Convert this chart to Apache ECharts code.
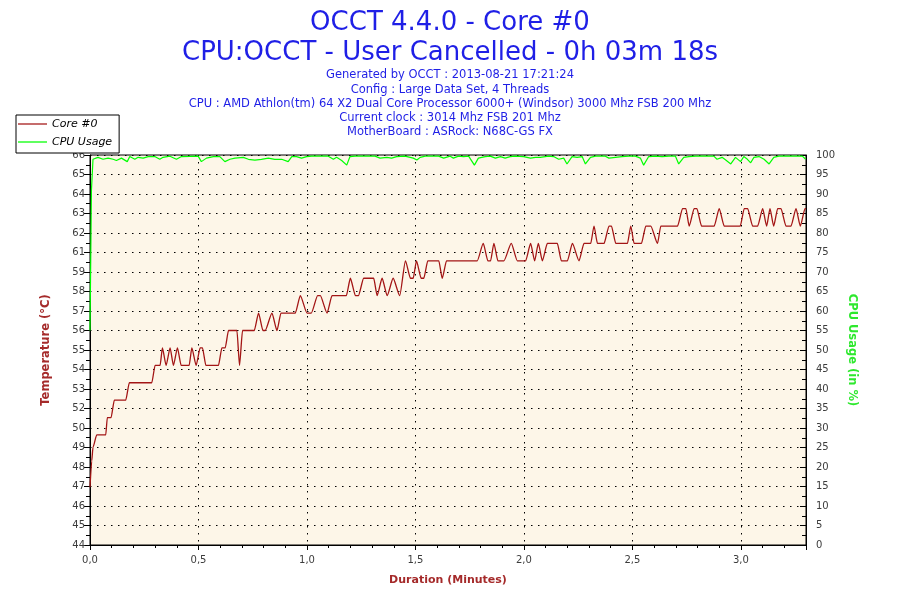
<!DOCTYPE html>
<html>
<head>
<meta charset="utf-8">
<script src="https://cdn.jsdelivr.net/npm/echarts@6/dist/echarts.min.js"></script>
<style>html,body{margin:0;padding:0;background:#fff}#c{width:900px;height:600px}</style>
</head>
<body>
<div id="c"></div>
<script>
// ---- data ----
var titleMain = 'OCCT 4.4.0 - Core #0';
var titleSub = 'CPU:OCCT - User Cancelled - 0h 03m 18s';
var infoLines = [
  'Generated by OCCT : 2013-08-21 17:21:24',
  'Config : Large Data Set, 4 Threads',
  'CPU : AMD Athlon(tm) 64 X2 Dual Core Processor 6000+ (Windsor) 3000 Mhz FSB 200 Mhz',
  'Current clock : 3014 Mhz FSB 201 Mhz',
  'MotherBoard : ASRock: N68C-GS FX'
];
var seriesNames = ['Core #0', 'CPU Usage'];
// left axis tick labels (one per right-axis 5% step)
var tempTickLabels = [44,45,46,47,48,49,50,52,53,54,55,56,57,58,59,61,62,63,64,65,66];

// Core #0 temperature: time (s) and value (°C)
var tempSec = [
  0,0.47,0.83,1.86,4.35,4.79,5.82,6.73,9.89,10.88,
  17.09,18.0,19.39,20.02,21.05,22.15,23.07,24.18,25.2,27.42,
  28.16,29.35,30.46,31.1,32.04,35.53,36.47,37.39,38.3,40.63,
  41.35,42.18,45.42,46.61,47.83,48.46,50.32,51.7,52.81,56.77,
  58.16,60.01,61.2,62.95,63.69,65.55,66.93,70.89,72.0,73.39,
  74.22,75.68,78.45,79.4,80.78,82.17,83.83,85.65,87.23,88.62,
  89.37,90.28,91.58,92.3,93.41,96.46,97.4,98.59,107.09,108.75,
  110.03,110.77,111.69,112.8,114.46,116.5,118.17,120.47,121.85,122.96,
  123.98,125.09,126.47,129.24,130.35,132.01,133.4,135.23,136.61,138.47,
  139.38,140.32,142.15,143.53,144.2,145.39,148.63,149.54,150.46,152.5,
  153.7,155.08,156.94,157.85,162.48,163.86,164.78,165.69,167.07,167.82,
  169.12,172.61,174.0,175.38,179.81,180.92,181.86,183.25,184.63,186.02,
  187.12,188.04,189.06,190.17,191.08,192.47,193.85,195.24,196.43,197.73,
  198
];
var tempVal = [
  47,48.5,49.3,50,50,51,51,52,52,53,
  53,54,54,55,54,55,54,55,54,54,
  55,54,55,55,54,54,55,55,56,56,
  54,56,56,57,56,56,57,56,57,57,
  58,57,57,58,58,57,58,58,59,58,
  58,59,59,58,59,58,59,58,60,59,
  59,60,59,59,60,60,59,60,60,61,
  60,60,61,60,60,61,60,60,61,60,
  61,60,61,61,60,60,61,60,61,61,
  62,61,61,62,62,61,61,62,61,61,
  62,62,61,62,62,63,63,62,63,63,
  62,62,63,62,62,63,63,62,62,63,
  62,63,62,63,63,62,62,63,62,63,
  63
];

// CPU usage: time (s) and value (%)
var cpuSec = [
  0,0.4,0.83,2.2,3.6,5.0,6.4,7.3,8.7,10.3,
  11.0,12.4,13.3,14.7,16.1,17.9,19.3,20.2,22.1,23.9,
  25.3,29.9,30.8,32.2,34.1,35.9,37.3,38.7,40.1,42.4,
  43.8,45.6,47.4,49.3,51.1,53.0,54.8,55.8,57.1,58.5,
  59.9,61.3,65.9,67.3,68.2,69.6,71.0,71.9,73.3,78.8,
  80.2,82.1,83.4,84.8,87.1,89.4,90.4,91.3,92.7,96.4,
  97.8,99.6,100.5,101.9,103.3,104.7,106.3,107.4,109.3,110.7,
  112.1,113.5,114.8,116.2,117.6,119.9,121.8,123.2,124.5,126.8,
  128.2,129.6,131.0,131.9,133.3,134.7,136.1,137.0,138.4,139.8,
  142.5,143.5,145.3,147.1,149.0,150.8,152.2,153.1,154.5,156.4,
  158.2,160.1,161.9,162.8,164.2,165.6,167.5,172.5,173.4,174.8,
  175.8,177.2,178.5,179.9,180.8,181.8,182.7,183.6,185.0,186.4,
  187.8,189.1,190.5,197.0,197.9
];
var cpuVal = [
  55,91,98.9,99.4,98.9,99.2,98.9,98.6,99.2,98.3,
  99.6,98.9,99.4,99.2,99.6,99.6,98.9,99.4,99.7,98.9,
  99.6,99.7,98.3,99.2,99.6,99.6,98.3,98.9,99.2,99.4,
  98.9,98.7,98.9,99.2,98.9,98.9,98.3,99.6,99.6,99.2,
  99.6,99.7,99.7,98.9,99.4,98.6,97.4,99.6,99.7,99.7,
  99.2,99.4,99.2,99.6,99.7,99.2,98.7,99.4,99.7,99.7,
  99.2,99.7,99.2,99.7,99.6,99.7,97.4,99.2,99.6,99.7,
  99.2,99.6,99.2,99.6,99.7,99.6,99.2,99.4,99.4,99.7,
  99.6,98.9,99.2,97.7,99.6,99.4,99.6,97.7,99.4,99.7,
  99.7,99.2,99.4,99.6,99.7,99.7,99.2,97.4,99.6,99.7,
  99.6,99.7,99.7,97.7,99.4,99.6,99.7,99.7,98.9,99.4,
  98.7,97.7,99.4,98.3,99.6,98.9,98.0,99.4,99.6,98.9,
  97.7,99.4,99.7,99.7,98.9
];

// ---- chart ----
var FONT = 'DejaVu Sans';
var BLUE = '#1f1fe6';
var TEMP_COLOR = '#a31515';
var CPU_COLOR = '#00ff00';
var chart = echarts.init(document.getElementById('c'), null, {renderer: 'canvas'});
var dotted = {color: '#000', width: 1, type: [1.5, 5.5]};

var tempData = tempSec.map(function (s, i) { return [s / 60, tempVal[i]]; });
var cpuData = cpuSec.map(function (s, i) { return [s / 60, cpuVal[i]]; });

var titles = [
  {text: titleMain, left: 'center', top: 10, padding: 0,
   textStyle: {fontFamily: FONT, fontSize: 26, fontWeight: 'normal', color: BLUE}},
  {text: titleSub, left: 'center', top: 40, padding: 0,
   textStyle: {fontFamily: FONT, fontSize: 26, fontWeight: 'normal', color: BLUE}}
];
var infoTops = [69.5, 84, 98, 112, 126];
infoLines.forEach(function (line, i) {
  titles.push({text: line, left: 'center', top: infoTops[i], padding: 0,
    textStyle: {fontFamily: FONT, fontSize: 11.5, fontWeight: 'normal', color: BLUE}});
});

var lineIcon = 'path://M0,0H30V1.3H0Z';

chart.setOption({
  animation: false,
  backgroundColor: '#ffffff',
  title: titles,
  legend: {
    data: [
      {name: seriesNames[0], icon: lineIcon, itemStyle: {color: TEMP_COLOR}},
      {name: seriesNames[1], icon: lineIcon, itemStyle: {color: CPU_COLOR}}
    ],
    orient: 'vertical',
    left: 16, top: 115,
    padding: [2, 7, 4, 2],
    itemWidth: 29, itemHeight: 14, itemGap: 4, itemTextGap: 8,
    backgroundColor: '#fff', borderColor: '#000', borderWidth: 1, borderRadius: 0,
    textStyle: {fontFamily: FONT, fontSize: 11, fontStyle: 'italic', color: '#000', lineHeight: 14}
  },
  grid: {
    left: 90, right: 94, top: 155, bottom: 55,
    show: true, backgroundColor: '#fdf6e8', borderColor: '#000', borderWidth: 1
  },
  xAxis: {
    type: 'value', min: 0, max: 3.3, interval: 0.5,
    name: 'Duration (Minutes)', nameLocation: 'middle', nameGap: 30,
    nameTextStyle: {fontFamily: FONT, fontSize: 11, fontWeight: 'bold', color: '#a52a2a'},
    axisLine: {show: true, lineStyle: {color: '#000', width: 1}},
    axisTick: {show: true, length: 5, lineStyle: {color: '#000'}},
    minorTick: {show: true, splitNumber: 5, length: 3, lineStyle: {color: '#000'}},
    axisLabel: {fontFamily: FONT, fontSize: 10, color: '#3c3c3c', margin: 10, showMaxLabel: false,
      formatter: function (v) { return v.toFixed(1).replace('.', ','); }},
    splitLine: {show: true, lineStyle: dotted}
  },
  yAxis: [
    {
      type: 'value', position: 'left', min: 43.68, max: 66.08, interval: 1.12,
      name: 'Temperature (°C)', nameLocation: 'middle', nameGap: 38, nameRotate: 90,
      nameTextStyle: {fontFamily: FONT, fontSize: 11.5, fontWeight: 'bold', color: '#a52a2a'},
      axisLine: {show: true, lineStyle: {color: '#000', width: 1}},
      axisTick: {show: true, length: 6, lineStyle: {color: '#000'}},
      minorTick: {show: true, splitNumber: 2, length: 4, lineStyle: {color: '#000'}},
      axisLabel: {fontFamily: FONT, fontSize: 10, color: '#3c3c3c', margin: 5,
        formatter: function (v, i) { return tempTickLabels[i] !== undefined ? String(tempTickLabels[i]) : ''; }},
      splitLine: {show: false}
    },
    {
      type: 'value', position: 'right', min: 0, max: 100, interval: 5,
      name: 'CPU Usage (in %)', nameLocation: 'middle', nameGap: 38, nameRotate: -90,
      nameTextStyle: {fontFamily: FONT, fontSize: 11.5, fontWeight: 'bold', color: '#2ee82e'},
      axisLine: {show: true, lineStyle: {color: '#000', width: 1}},
      axisTick: {show: true, inside: true, length: 6, lineStyle: {color: '#000'}},
      minorTick: {show: true, splitNumber: 2, length: 4, lineStyle: {color: '#000'}},
      axisLabel: {fontFamily: FONT, fontSize: 10, color: '#3c3c3c', margin: 10},
      splitLine: {show: true, lineStyle: dotted}
    }
  ],
  series: [
    {
      name: seriesNames[0], type: 'line', yAxisIndex: 0, data: tempData,
      symbol: 'none', showSymbol: false, smooth: 0.2, smoothMonotone: 'x',
      lineStyle: {color: TEMP_COLOR, width: 1.3}, itemStyle: {color: TEMP_COLOR}, z: 3
    },
    {
      name: seriesNames[1], type: 'line', yAxisIndex: 1, data: cpuData,
      symbol: 'none', showSymbol: false,
      lineStyle: {color: CPU_COLOR, width: 1.2}, itemStyle: {color: CPU_COLOR}, z: 4
    }
  ]
});
</script>
</body>
</html>
